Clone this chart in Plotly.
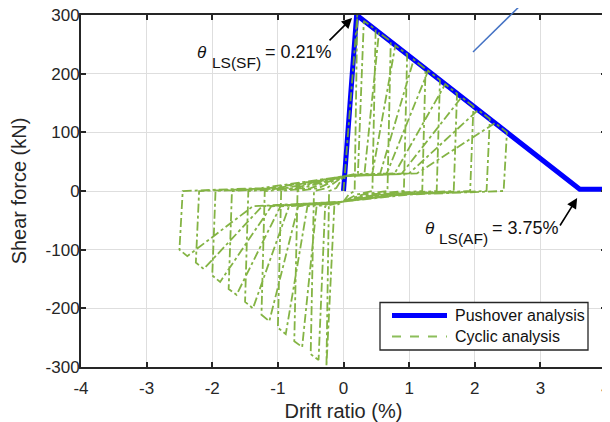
import plotly.graph_objects as go

# ---------------- data ----------------
x_ticks = [-4, -3, -2, -1, 0, 1, 2, 3, 4]
y_ticks = [-300, -200, -100, 0, 100, 200, 300]

pushover_x = [0.0, 0.2, 3.6, 4.0]
pushover_y = [0, 300, 3, 3]

# cyclic response, one line per cycle
cyclic_x = (
    [0.0, 0.21, 0.17, 0.08, 0.0, -0.14, -0.26, -0.22, -0.11]
    + [0.0, 0.22, 0.31, 0.49, 0.44, 0.20, 0.0, -0.28, -0.38, -0.50, -0.45, -0.25]
    + [0.0, 0.32, 0.54, 0.72, 0.67, 0.29, 0.0, -0.41, -0.63, -0.75, -0.70, -0.38]
    + [0.0, 0.44, 0.79, 0.97, 0.92, 0.39, 0.0, -0.55, -0.88, -1.00, -0.95, -0.50]
    + [0.0, 0.56, 1.07, 1.25, 1.20, 0.50, 0.0, -0.69, -1.13, -1.25, -1.20, -0.63]
    + [0.0, 0.66, 1.29, 1.47, 1.42, 0.59, 0.0, -0.83, -1.38, -1.50, -1.45, -0.75]
    + [0.0, 0.78, 1.55, 1.73, 1.68, 0.69, 0.0, -0.96, -1.63, -1.75, -1.70, -0.88]
    + [0.0, 0.89, 1.80, 1.98, 1.93, 0.79, 0.0, -1.10, -1.88, -2.00, -1.95, -1.00]
    + [0.0, 1.00, 2.05, 2.23, 2.18, 0.89, 0.0, -1.24, -2.13, -2.25, -2.20, -1.13]
    + [0.0, 1.12, 2.31, 2.49, 2.44, 1.00, 0.0, -1.38, -2.38, -2.50, -2.45, -1.25, 0.0]
)
cyclic_y = (
    [0, 300, 0, -6, -18, -26, -299, 0, 5]
    + [25, 30, 290, 275, 0, -6, -18, -26, -288, -278, 0, 5]
    + [25, 30, 270, 255, 0, -6, -18, -26, -266, -256, 0, 5]
    + [25, 30, 248, 233, 0, -6, -18, -26, -244, -233, 0, 5]
    + [25, 30, 224, 208, 0, -6, -18, -26, -222, -211, 0, 5]
    + [25, 30, 205, 189, 0, -6, -18, -26, -200, -189, 0, 5]
    + [25, 30, 182, 166, 0, -6, -18, -26, -177, -167, 0, 5]
    + [25, 30, 160, 144, 0, -6, -18, -26, -155, -144, 0, 5]
    + [25, 30, 138, 123, 0, -6, -18, -26, -133, -122, 0, 5]
    + [25, 30, 116, 100, 0, -6, -18, -26, -111, -100, 0, 5, 25]
)

legend_labels = ["Pushover analysis", "Cyclic analysis"]

# ---------------- styles ----------------
FONT = "Liberation Sans, Arial, sans-serif"
AX = "#262626"
BLUE = "rgb(0,0,255)"
GREEN = "rgb(119,172,48)"

OFF = 8  # page body margin
W, H = 610 - OFF, 422 - OFF
L, T = 81 - OFF, 15 - OFF
PW, PH = 525, 352
R, B = W - L - PW, H - T - PH


def px(x):
    # page pixel -> paper fraction
    return (x - OFF - L) / PW


def py(y):
    return (T + PH - (y - OFF)) / PH


fig = go.Figure()
fig.add_trace(go.Scatter(x=pushover_x, y=pushover_y, mode="lines",
                         line=dict(color=BLUE, width=5),
                         name=legend_labels[0], showlegend=False))
fig.add_trace(go.Scatter(x=cyclic_x, y=cyclic_y, mode="lines",
                         line=dict(color=GREEN, width=1.8, dash="dashdot"),
                         opacity=0.9, name=legend_labels[1], showlegend=False))

axis_common = dict(
    showline=True, linecolor=AX, linewidth=2, mirror="ticks",
    ticks="inside", ticklen=5, tickwidth=1.5, tickcolor=AX,
    showgrid=True, gridcolor="#dedede", gridwidth=1, zeroline=False,
    ticklabeloverflow="allow",
    tickfont=dict(family=FONT, size=17, color=AX),
)

fig.update_xaxes(range=[-4, 4], tickvals=x_ticks, ticktext=[str(v) for v in x_ticks],
                 ticklabelstandoff=5,
                 title=dict(text="Drift ratio (%)", font=dict(family=FONT, size=20, color=AX),
                            standoff=12),
                 **axis_common)
fig.update_yaxes(range=[-300, 300], tickvals=y_ticks, ticktext=[str(v) for v in y_ticks],
                 ticklabelstandoff=-4,
                 title=dict(text="Shear force (kN)", font=dict(family=FONT, size=20, color=AX),
                            standoff=17),
                 **axis_common)

shapes = []
# stray blue line from the original figure
shapes.append(dict(type="line", xref="paper", yref="paper",
                   x0=px(473), y0=py(52), x1=px(532), y1=py(-6),
                   line=dict(color="rgb(68,114,196)", width=1.5), layer="above"))
# legend box
shapes.append(dict(type="rect", xref="paper", yref="paper",
                   x0=px(380), x1=px(588), y0=py(350), y1=py(302.5),
                   fillcolor="white", line=dict(color=AX, width=1.3), layer="above"))
shapes.append(dict(type="line", xref="paper", yref="paper",
                   x0=px(392), x1=px(447), y0=py(315.5), y1=py(315.5),
                   line=dict(color=BLUE, width=5), layer="above"))
shapes.append(dict(type="line", xref="paper", yref="paper",
                   x0=px(392), x1=px(447), y0=py(336.5), y1=py(336.5),
                   line=dict(color="rgb(140,190,90)", width=2, dash="dash"), layer="above"))

ann = []
for lbl, yy in zip(legend_labels, [315.5, 336.5]):
    ann.append(dict(text=lbl, xref="paper", yref="paper", x=px(453), y=py(yy),
                    xanchor="left", yanchor="middle", showarrow=False,
                    font=dict(family=FONT, size=16, color="#111111")))

# annotation 1: theta LS(SF)
ann.append(dict(text="<i>θ</i>", xref="paper", yref="paper", x=px(202), y=py(52),
                xanchor="center", yanchor="middle", showarrow=False,
                font=dict(family=FONT, size=17, color="#111111")))
ann.append(dict(text="LS(SF)", xref="paper", yref="paper", x=px(210), y=py(62),
                xanchor="left", yanchor="middle", showarrow=False,
                font=dict(family=FONT, size=15.5, color="#111111")))
ann.append(dict(text="= 0.21%", xref="paper", yref="paper", x=px(263), y=py(52),
                xanchor="left", yanchor="middle", showarrow=False,
                font=dict(family=FONT, size=18, color="#111111")))
# annotation 2: theta LS(AF)
ann.append(dict(text="<i>θ</i>", xref="paper", yref="paper", x=px(430), y=py(228),
                xanchor="center", yanchor="middle", showarrow=False,
                font=dict(family=FONT, size=17, color="#111111")))
ann.append(dict(text="LS(AF)", xref="paper", yref="paper", x=px(437), y=py(238),
                xanchor="left", yanchor="middle", showarrow=False,
                font=dict(family=FONT, size=15.5, color="#111111")))
ann.append(dict(text="= 3.75%", xref="paper", yref="paper", x=px(490), y=py(228),
                xanchor="left", yanchor="middle", showarrow=False,
                font=dict(family=FONT, size=18, color="#111111")))
# arrows
ann.append(dict(text="", x=0.13, y=295, xref="x", yref="y", ax=-24, ay=24,
                showarrow=True, arrowhead=2, arrowsize=1.3, arrowwidth=1.6,
                arrowcolor="black"))
ann.append(dict(text="", x=3.56, y=-12, xref="x", yref="y", ax=-18, ay=29,
                showarrow=True, arrowhead=2, arrowsize=1.3, arrowwidth=1.6,
                arrowcolor="black"))

fig.update_layout(
    width=W, height=H,
    margin=dict(l=L, r=R, t=T, b=B, autoexpand=False),
    plot_bgcolor="white", paper_bgcolor="white",
    shapes=shapes, annotations=ann, showlegend=False,
    font=dict(family=FONT, color=AX),
)

fig.write_html("out.html")
